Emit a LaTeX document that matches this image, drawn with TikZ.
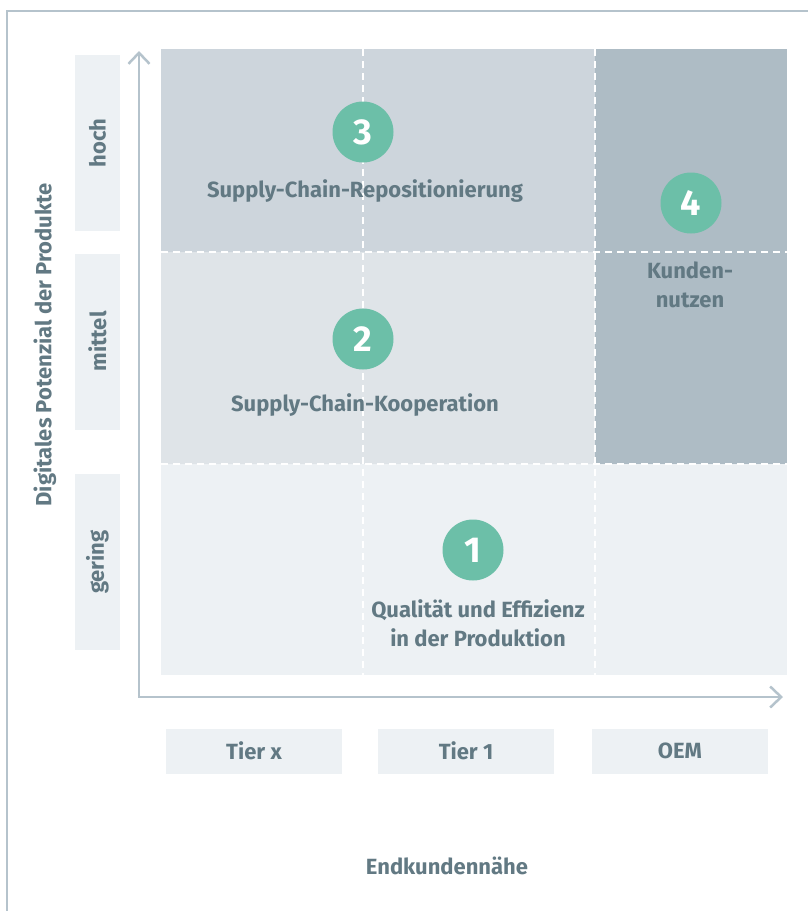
\documentclass[tikz,border=0pt]{standalone}
\usepackage{fontspec}
\setmainfont{Fira Sans}
\usetikzlibrary{arrows.meta}

\definecolor{framegray}{HTML}{B5C3CC}
\definecolor{fieldlow}{HTML}{EDF1F4}
\definecolor{fieldmid}{HTML}{DFE4E8}
\definecolor{fieldhigh}{HTML}{CDD5DC}
\definecolor{fielddark}{HTML}{AEBCC5}
\definecolor{mint}{HTML}{6CBFA8}
\definecolor{labelgray}{HTML}{627983}

\begin{document}
\begin{tikzpicture}[x=1pt,y=-1pt,
    lbl/.style={text=labelgray,font=\bfseries\fontsize{22}{29}\selectfont,align=center},
    num/.style={circle,fill=mint,text=white,minimum size=61pt,inner sep=0pt,
      font=\bfseries\fontsize{36}{36}\selectfont},
    tag/.style={lbl,fill=fieldlow,minimum width=176pt,minimum height=45pt,inner sep=0pt},
    gridline/.style={white,line width=2pt,dash pattern=on 7pt off 5pt},
    axis/.style={framegray,line width=2.5pt,
      {Straight Barb[length=11pt,width=21pt]}-{Straight Barb[length=11pt,width=21pt]}}]
  \useasboundingbox (0,0) rectangle (808,911);
  \draw[framegray,line width=2pt] (6.5,911) -- (6.5,10.5) -- (808,10.5);
  % fields of the matrix
  \fill[fieldlow]  (161,464) rectangle (787,675);
  \fill[fieldmid]  (161,252) rectangle (595,464);
  \fill[fieldhigh] (161,49)  rectangle (595,252);
  \fill[fielddark] (595,49)  rectangle (787,464);
  \draw[gridline] (363,49) -- (363,675)
                  (595,49) -- (595,675)
                  (161,252) -- (787,252)
                  (161,464) -- (787,464);
  % axes
  \coordinate (origin) at (139,697);
  \coordinate (ytip) at (139,51);
  \coordinate (xtip) at (783,697);
  \draw[axis] (ytip) -- (origin) -- (xtip);
  \node[lbl,rotate=90] (ylabel) at (45,345) {Digitales Potenzial der Produkte};
  \node[lbl] (xlabel) at (447,866) {Endkundennähe};
  \node[tag,rotate=90] (hoch)   at (97.5,143) {hoch};        % row tags
  \node[tag,rotate=90] (mittel) at (97.5,341.5) {mittel};
  \node[tag,rotate=90] (gering) at (97.5,562) {gering};
  \node[tag] (tierx) at (254,751) {Tier x};                   % column tags
  \node[tag] (tiera) at (466,751) {Tier 1};
  \node[tag] (oem)   at (680,751) {OEM};
  \node[num] (n3) at (363,132) {3};                           % repositioning
  \node[lbl] (repos) at (365,191) {Supply-Chain-Repositionierung};
  \node[num] (n2) at (363,339) {2};                           % cooperation
  \node[lbl] (koop) at (365,405) {Supply-Chain-Kooperation};
  \node[num] (n1) at (473,550) {1};                           % production
  \node[lbl] (prod) at (478,623) {Qualität und Effizienz\\in der Produktion};
  \node[num] (n4) at (691,203) {4};                           % customer value
  \node[lbl] (kunde) at (690,285) {Kunden-\\nutzen};
\end{tikzpicture}
\end{document}
